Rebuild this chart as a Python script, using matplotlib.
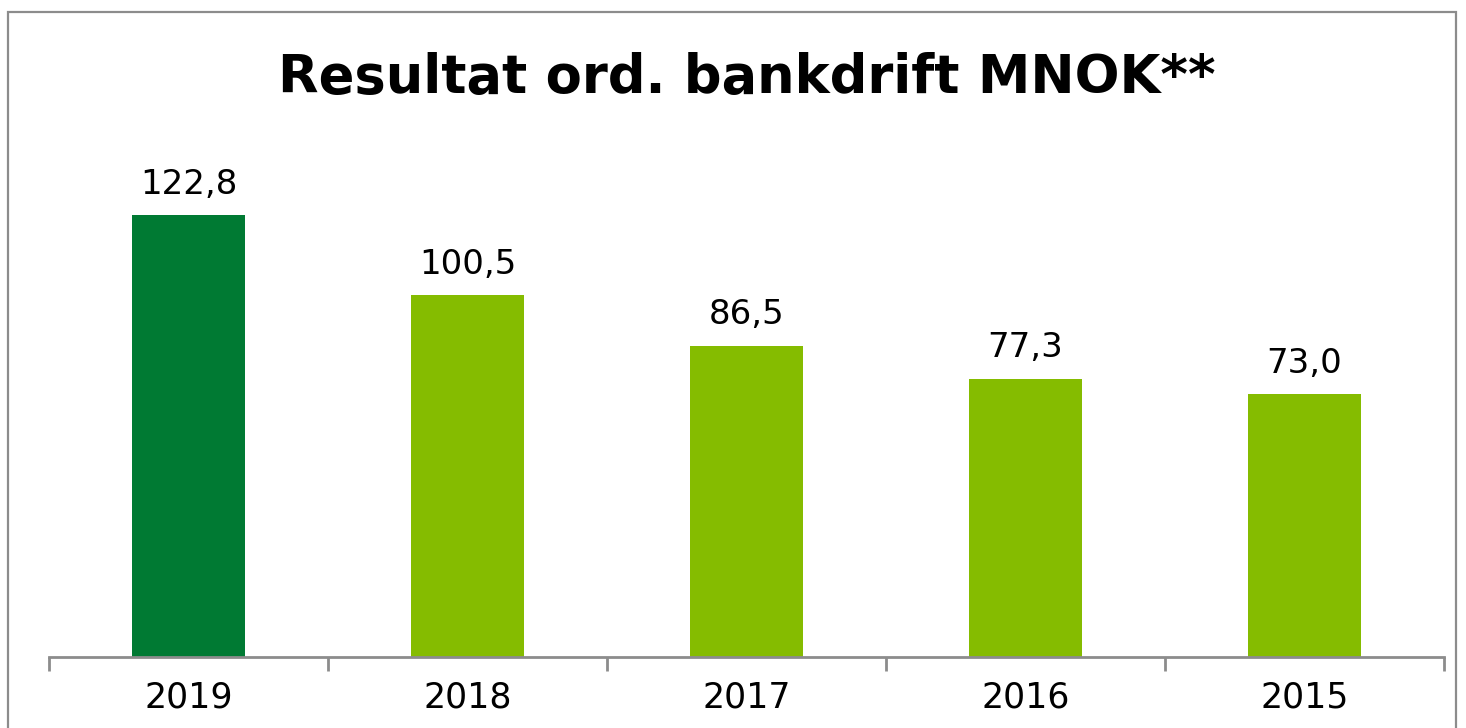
import matplotlib
matplotlib.use("Agg")
import matplotlib.pyplot as plt
from matplotlib.patches import Rectangle

years = ["2019", "2018", "2017", "2016", "2015"]
values = [122.8, 100.5, 86.5, 77.3, 73.0]
labels = ["122,8", "100,5", "86,5", "77,3", "73,0"]
colors = ["#007A33", "#85BC00", "#85BC00", "#85BC00", "#85BC00"]
title = "Resultat ord. bankdrift MNOK**"

W, H = 1466, 728
fig = plt.figure(figsize=(W / 100, H / 100), dpi=100)
fig.patch.set_facecolor("white")

# outer frame
fig.add_artist(Rectangle((8 / W, -0.05), 1448 / W, (H - 12) / H + 0.05,
                         transform=fig.transFigure, fill=False,
                         edgecolor="#8c8c8c", linewidth=1.6))

left, right = 49 / W, 1444 / W
bottom, top = (H - 657) / H, (H - 153) / H
ax = fig.add_axes([left, bottom, right - left, top - bottom])

x = range(len(years))
ax.bar(x, values, width=0.405, color=colors)
ax.set_xlim(-0.5, len(years) - 0.5)
ax.set_ylim(0, 140)

for xi, v, lab in zip(x, values, labels):
    ax.text(xi, v + 4, lab, ha="center", va="bottom", fontsize=24.5, color="#000000")

for s in ["top", "right", "left"]:
    ax.spines[s].set_visible(False)
ax.spines["bottom"].set_color("#8c8c8c")
ax.spines["bottom"].set_linewidth(2)
ax.set_yticks([])
ax.set_xticks([i - 0.5 for i in range(len(years) + 1)], minor=False)
ax.set_xticklabels([])
ax.tick_params(axis="x", which="major", length=10, width=2, color="#8c8c8c", direction="out")
ax.set_xticks(list(x), minor=True)
ax.set_xticklabels(years, minor=True)
ax.tick_params(axis="x", which="minor", length=0, pad=17, labelsize=25)

fig.text(747 / W, (H - 78) / H, title, ha="center", va="center",
         fontsize=38, fontweight="bold", color="#000000")

fig.savefig("out.png", dpi=100, facecolor="white")
